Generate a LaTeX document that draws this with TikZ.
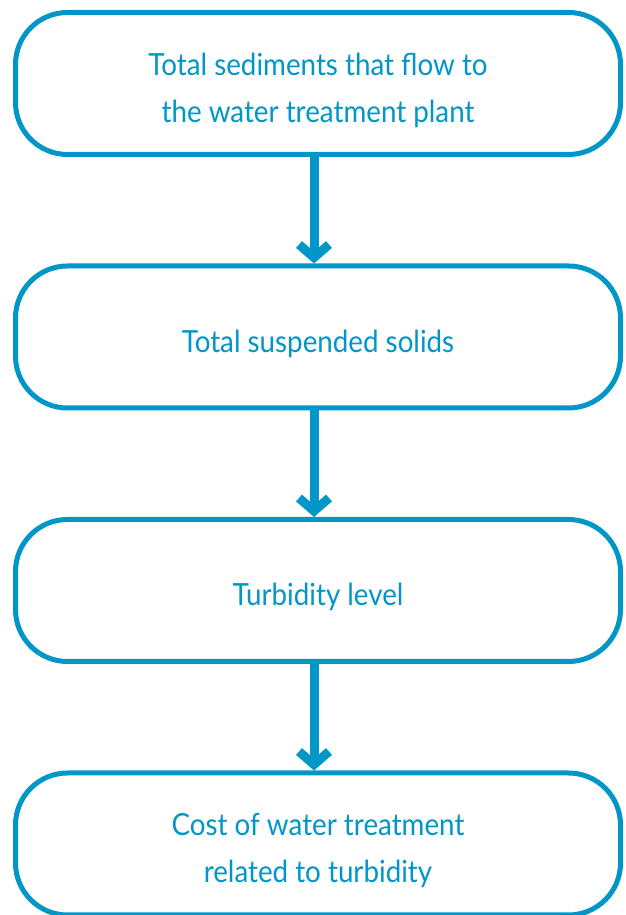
\documentclass[tikz,border=0pt]{standalone}
\usepackage{fontspec}
\setmainfont{Lato}[FakeStretch=0.91]
\usetikzlibrary{positioning,arrows.meta}
\definecolor{wblue}{RGB}{0,150,199}
\newcommand{\upstrut}{\rule{0pt}{36pt}}
\tikzset{
  stage/.style={draw=wblue, line width=5pt, rounded corners=52pt, minimum width=605pt,
    minimum height=142pt, align=center, text=wblue, font=\fontsize{30.5}{47}\selectfont},
  flow/.style={draw=wblue, line width=9pt, -{Straight Barb[length=13pt,width=30pt]}}
}
\begin{document}
\begin{tikzpicture}[node distance=106.5pt]
  \useasboundingbox (0,0) rectangle (626pt,915pt);
  \node[stage] (sed) at (318pt,831.5pt) {\upstrut Total sediments that flow to\\the water treatment plant};
  \node[stage, below=of sed] (tss) {\upstrut Total suspended solids};
  \node[stage, below=of tss] (turb) {\upstrut Turbidity level};
  \node[stage, below=of turb] (cost) {\upstrut Cost of water treatment\\related to turbidity};
  \draw[flow] ([xshift=-4pt]sed.south) -- ([xshift=-4pt]tss.north);
  \draw[flow] ([xshift=-4pt]tss.south) -- ([xshift=-4pt]turb.north);
  \draw[flow] ([xshift=-4pt]turb.south) -- ([xshift=-4pt]cost.north);
\end{tikzpicture}
\end{document}
